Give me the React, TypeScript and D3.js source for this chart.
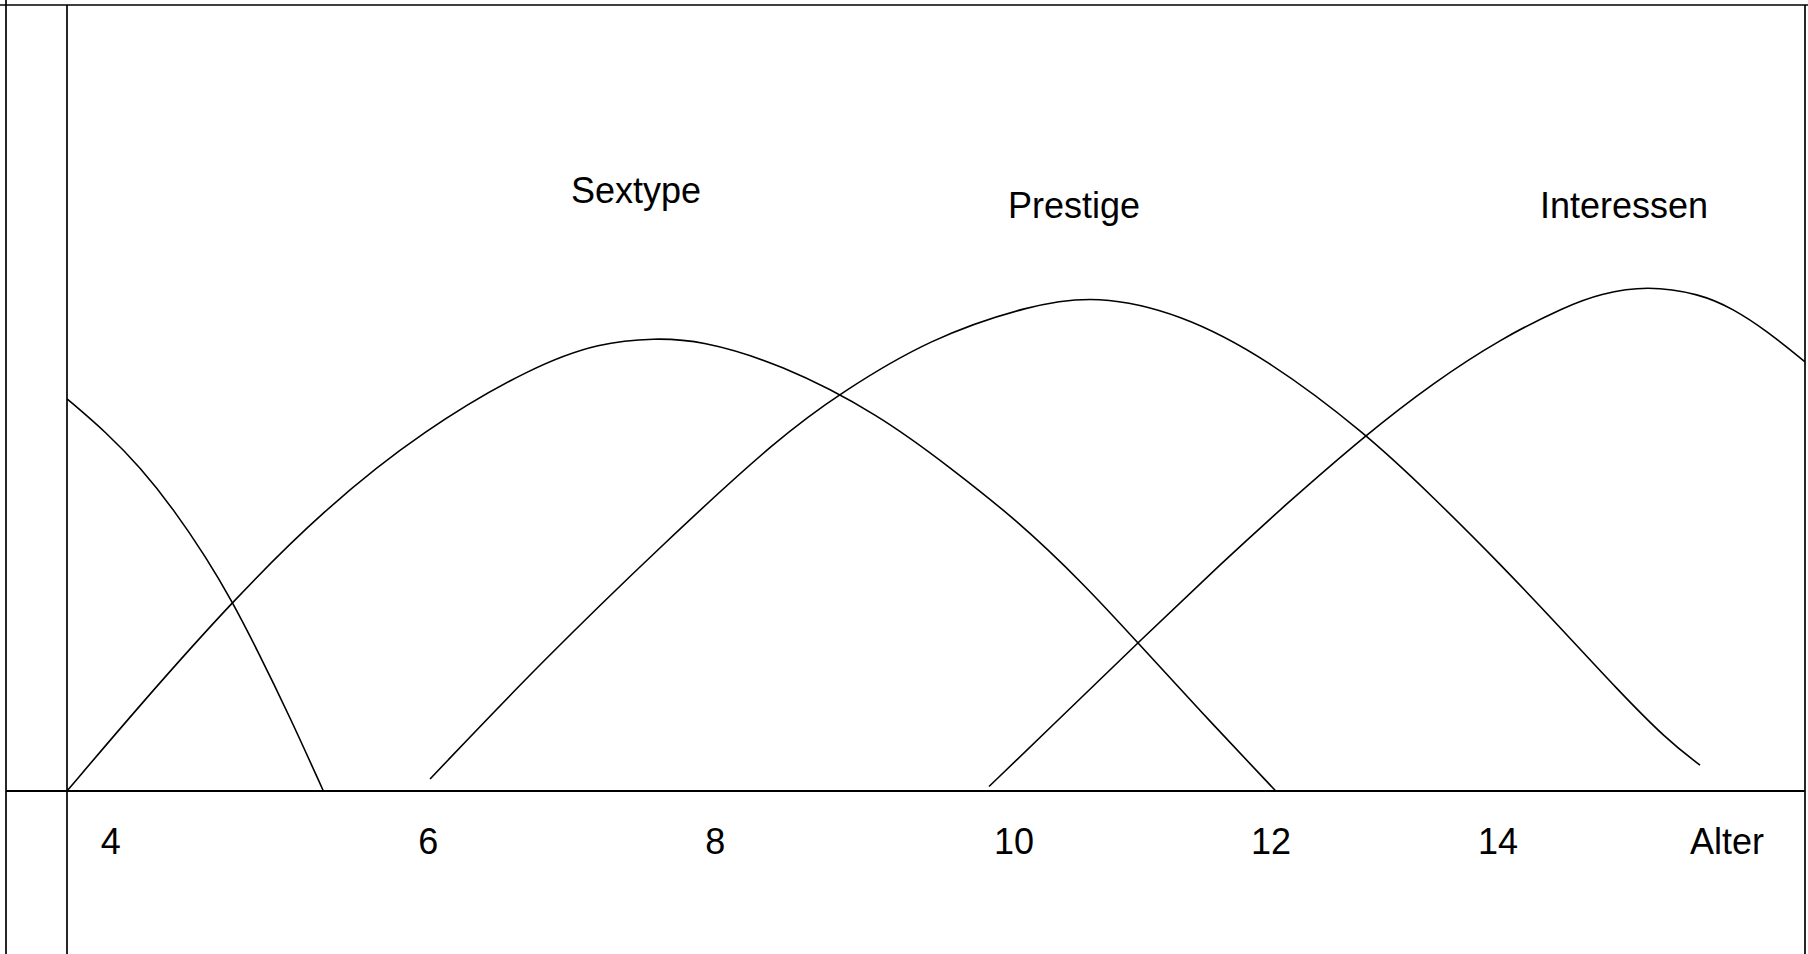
import React from 'react';
import { scaleLinear, line, curveBasis } from 'd3';

// positions on both axes are in percent of the frame (the drawing has no real scale)
const fruehe = [
  [0, 49.9], [2.28, 45.6], [4.2, 41.2], [6.12, 35.9], [8.04, 29.6],
  [9.48, 24.2], [10.91, 18.1], [12.83, 9.4], [14.75, 0],
];

const sextype = [
  [0, 0], [4.2, 10.94], [9.48, 24.08], [14.75, 35.75], [20.5, 45.93],
  [26.81, 54.05], [30.67, 57.06], [33.83, 57.62], [36.42, 57.35], [41.02, 54.41],
  [46.78, 47.84], [50.9, 41.0], [54.64, 34.5], [58.48, 26.4], [61.6, 18.9],
  [65.19, 10.2], [69.55, 0],
];

const prestige = [
  [20.89, 1.53], [27.22, 16.25], [34.52, 31.9], [41.02, 45.08], [44.48, 50.6],
  [49.65, 57.6], [55.41, 61.83], [59.25, 63.1], [64.04, 60.78], [69.03, 55.05],
  [74.78, 45.42], [78.61, 37.38], [82.45, 28.93], [86.29, 19.91], [89.16, 13.02],
  [92.04, 6.54], [93.96, 3.28],
];

const interessen = [
  [53.05, 0.57], [56.56, 8.02], [61.6, 18.84], [66.63, 29.39], [69.98, 36.17],
  [74.78, 45.42], [78.61, 51.93], [82.45, 57.5], [86.29, 61.72], [88.2, 63.25],
  [90.89, 64.33], [93.96, 63.26], [95.86, 61.36], [97.78, 58.58], [100, 54.6],
];

const curveLabels = ['Sextype', 'Prestige', 'Interessen'];
const curveLabelX = [29.0, 54.14, 84.75];
const curveLabelY = [74.8, 72.9, 72.9];

const tickLabels = ['4', '6', '8', '10', '12', '14', 'Alter'];
const tickX = [2.52, 20.78, 37.3, 54.49, 69.27, 82.34, 95.51];

export default function App() {
  const W = 1808;
  const H = 954;
  const outer = 6;
  const left = 67;
  const right = 1805;
  const top = 5;
  const base = 791;

  const x = scaleLinear().domain([0, 100]).range([left, right]);
  const y = scaleLinear().domain([0, 100]).range([base, top]);

  const path = line()
    .x(d => x(d[0]))
    .y(d => y(d[1]))
    .curve(curveBasis);

  const font = '"Liberation Sans", Arial, sans-serif';

  return (
    <svg width={W} height={H} style={{ position: 'absolute', left: 0, top: 0, background: '#fff' }}>
      <g stroke="#000" strokeWidth={1.7} fill="none">
        <line x1={0} x2={W} y1={top} y2={top} />
        <line x1={outer} x2={outer} y1={0} y2={H} />
        <line x1={left} x2={left} y1={top} y2={H} />
        <line x1={right} x2={right} y1={top} y2={H} />
        <line x1={outer} x2={right} y1={base} y2={base} strokeWidth={2} />
      </g>

      <g stroke="#000" strokeWidth={1.6} fill="none">
        {[fruehe, sextype, prestige, interessen].map((c, i) => (
          <path key={i} d={path(c)} />
        ))}
      </g>

      <g fontFamily={font} fontSize={36} fill="#000">
        {curveLabels.map((t, i) => (
          <text key={t} x={x(curveLabelX[i])} y={y(curveLabelY[i])}>{t}</text>
        ))}
        {tickLabels.map((t, i) => (
          <text key={t} x={x(tickX[i])} y={y(-8.03)} textAnchor="middle">{t}</text>
        ))}
      </g>
    </svg>
  );
}
